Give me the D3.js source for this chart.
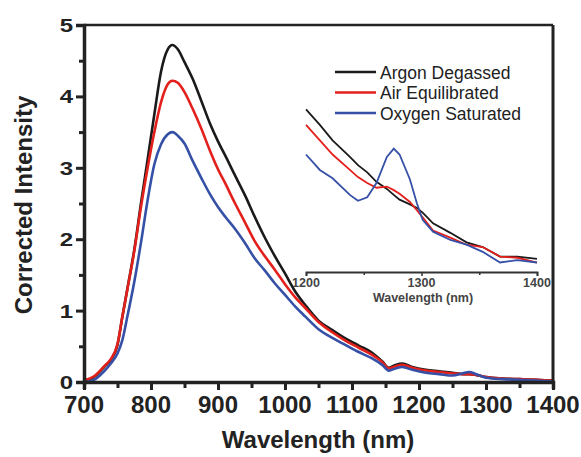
<!DOCTYPE html>
<html>
<head>
<meta charset="utf-8">
<script src="https://cdn.jsdelivr.net/npm/d3@7"></script>
<style>
  body { margin: 0; background: #fff; }
  svg text { font-family: "Liberation Sans", Arial, sans-serif; }
</style>
</head>
<body>
<div class="canvas"></div>
<script>
// main spectra (nm, corrected intensity)
const wavelength = [700, 715, 730, 740, 750, 757, 765, 775, 785, 795, 805, 815, 825, 832, 840, 850, 862, 875, 888, 900,
  912, 925, 940, 955, 970, 985, 1000, 1015, 1030, 1050, 1070, 1090, 1110, 1130, 1145, 1155, 1165, 1175, 1190, 1210,
  1230, 1250, 1265, 1275, 1285, 1300, 1325, 1350, 1375, 1400];
const argon = [0.02, 0.07, 0.21, 0.31, 0.52, 0.90, 1.32, 1.85, 2.50, 3.12, 3.75, 4.35, 4.66, 4.72, 4.66, 4.48, 4.25, 3.94, 3.62, 3.37,
  3.15, 2.90, 2.62, 2.31, 2.02, 1.76, 1.52, 1.27, 1.08, 0.86, 0.73, 0.61, 0.51, 0.41, 0.29, 0.20, 0.24, 0.26, 0.21, 0.17,
  0.15, 0.13, 0.11, 0.11, 0.10, 0.07, 0.05, 0.04, 0.03, 0.02];
const air = [0.02, 0.08, 0.22, 0.32, 0.53, 0.90, 1.31, 1.83, 2.45, 3.00, 3.50, 3.92, 4.17, 4.22, 4.19, 4.06, 3.83, 3.55, 3.24, 2.98,
  2.76, 2.51, 2.24, 1.97, 1.76, 1.57, 1.37, 1.19, 1.04, 0.84, 0.70, 0.58, 0.48, 0.38, 0.28, 0.19, 0.22, 0.24, 0.20, 0.16,
  0.14, 0.12, 0.11, 0.11, 0.10, 0.07, 0.05, 0.04, 0.03, 0.02];
const oxygen = [0.00, 0.03, 0.15, 0.26, 0.40, 0.58, 0.93, 1.40, 1.95, 2.55, 3.05, 3.33, 3.47, 3.50, 3.45, 3.34, 3.10, 2.86, 2.63, 2.45,
  2.30, 2.15, 1.95, 1.73, 1.56, 1.38, 1.22, 1.06, 0.92, 0.74, 0.62, 0.52, 0.42, 0.33, 0.24, 0.16, 0.19, 0.21, 0.17, 0.13,
  0.11, 0.09, 0.12, 0.14, 0.11, 0.06, 0.04, 0.03, 0.02, 0.01];

// inset, 1200-1400 nm zoom
const insetNm = [1200, 1212, 1223, 1238, 1245, 1253, 1261, 1270, 1276, 1281, 1290, 1296, 1301, 1310, 1325, 1339, 1353, 1368, 1383, 1400];
const insetArgon = [0.157, 0.144, 0.131, 0.117, 0.110, 0.104, 0.096, 0.090, 0.085, 0.081, 0.077, 0.074, 0.070, 0.061, 0.053, 0.045, 0.041, 0.033, 0.033, 0.031];
const insetAir = [0.144, 0.131, 0.119, 0.106, 0.100, 0.095, 0.091, 0.092, 0.089, 0.086, 0.079, 0.072, 0.066, 0.055, 0.049, 0.043, 0.041, 0.033, 0.032, 0.028];
const insetOxygen = [0.119, 0.106, 0.099, 0.085, 0.080, 0.083, 0.095, 0.117, 0.124, 0.119, 0.098, 0.078, 0.064, 0.054, 0.047, 0.043, 0.037, 0.028, 0.030, 0.028];

const seriesNames = ['Argon Degassed', 'Air Equilibrated', 'Oxygen Saturated'];
const colors = ['#1a1a1a', '#e3201c', '#3550a6'];

const xTicks = [700, 800, 900, 1000, 1100, 1200, 1300, 1400];
const yTicks = [0, 1, 2, 3, 4, 5];
const insetTicks = [1200, 1300, 1400];

const W = 581, H = 457;
const plot = {left: 84, right: 553, top: 25, bottom: 382};

const svg = d3.select('.canvas').append('svg')
  .attr('width', W).attr('height', H);

const x = d3.scaleLinear().domain([700, 1400]).range([plot.left, plot.right]);
const y = d3.scaleLinear().domain([0, 5]).range([plot.bottom, plot.top]);

// main curves
const line = d3.line()
  .x(d => x(d[0])).y(d => y(d[1]))
  .curve(d3.curveMonotoneX);

[argon, air, oxygen].forEach((vals, i) => {
  svg.append('path')
    .datum(wavelength.map((w, j) => [w, vals[j]]))
    .attr('fill', 'none')
    .attr('stroke', colors[i])
    .attr('stroke-width', 2.6)
    .attr('d', line);
});

// frame
svg.append('line').attr('x1', plot.left).attr('x2', plot.right).attr('y1', plot.top).attr('y2', plot.top)
  .attr('stroke', '#222').attr('stroke-width', 2.5);
svg.append('line').attr('x1', plot.right).attr('x2', plot.right).attr('y1', plot.top).attr('y2', plot.bottom)
  .attr('stroke', '#222').attr('stroke-width', 3);

// x axis
const xAxis = svg.append('g')
  .attr('transform', `translate(0, ${plot.bottom})`)
  .call(d3.axisBottom(x).tickValues(d3.range(700, 1401, 50)).tickSize(7).tickFormat(''));
xAxis.selectAll('.tick line').attr('stroke', '#222').attr('stroke-width', 3)
  .attr('y2', d => d % 100 === 0 ? 8 : 6);
xAxis.select('.domain').attr('stroke', '#222').attr('stroke-width', 3.5);

svg.append('g').selectAll('text')
  .data(xTicks).enter()
  .append('text')
    .attr('x', d => x(d))
    .attr('y', 413)
    .attr('text-anchor', 'middle')
    .attr('font-size', 24)
    .attr('font-weight', 'bold')
    .attr('fill', '#222')
    .text(d => d);

// y axis
const yAxis = svg.append('g')
  .attr('transform', `translate(${plot.left}, 0)`)
  .call(d3.axisLeft(y).tickValues(d3.range(0, 5.01, 0.5)).tickSize(8).tickFormat(''));
yAxis.selectAll('.tick line').attr('stroke', '#222').attr('stroke-width', 3)
  .attr('x2', d => Number.isInteger(d) ? -8 : -5);
yAxis.select('.domain').attr('stroke', '#222').attr('stroke-width', 3.5);

svg.append('g').selectAll('text')
  .data(yTicks).enter()
  .append('text')
    .attr('transform', d => `translate(73, ${y(d) + 7}) scale(1, 0.8)`)
    .attr('text-anchor', 'end')
    .attr('font-size', 24)
    .attr('font-weight', 'bold')
    .attr('fill', '#222')
    .text(d => d);

// axis titles
svg.append('text')
  .attr('x', 318).attr('y', 448)
  .attr('text-anchor', 'middle')
  .attr('font-size', 24).attr('font-weight', 'bold').attr('fill', '#222')
  .text('Wavelength (nm)');

svg.append('text')
  .attr('transform', 'translate(32, 205) rotate(-90)')
  .attr('text-anchor', 'middle')
  .attr('font-size', 24).attr('font-weight', 'bold').attr('fill', '#222')
  .text('Corrected Intensity');

// inset
const ix = d3.scaleLinear().domain([1200, 1400]).range([306, 537]);
const iy = d3.scaleLinear().domain([0.02, 0.17]).range([272, 94]);

const insetLine = d3.line().x(d => ix(d[0])).y(d => iy(d[1]));

[insetArgon, insetAir, insetOxygen].forEach((vals, i) => {
  svg.append('path')
    .datum(insetNm.map((w, j) => [w, vals[j]]))
    .attr('fill', 'none')
    .attr('stroke', colors[i])
    .attr('stroke-width', 1.8)
    .attr('d', insetLine);
});

const insetAxis = svg.append('g')
  .attr('transform', 'translate(0, 272)')
  .call(d3.axisBottom(ix).tickValues([1200, 1250, 1300, 1350, 1400]).tickSize(4).tickFormat(''));
insetAxis.selectAll('.tick line').attr('stroke', '#333').attr('stroke-width', 1.5)
  .attr('y2', d => d % 100 === 0 ? 4 : 3);
insetAxis.select('.domain').attr('stroke', '#333').attr('stroke-width', 1.8);

svg.append('g').selectAll('text')
  .data(insetTicks).enter()
  .append('text')
    .attr('x', d => ix(d))
    .attr('y', 287)
    .attr('text-anchor', 'middle')
    .attr('font-size', 12.5)
    .attr('font-weight', 'bold')
    .attr('fill', '#444')
    .text(d => d);

svg.append('text')
  .attr('x', 423).attr('y', 302)
  .attr('text-anchor', 'middle')
  .attr('font-size', 12.5).attr('font-weight', 'bold').attr('fill', '#444')
  .text('Wavelength (nm)');

// legend
const legend = svg.append('g').attr('transform', 'translate(335, 72)');
seriesNames.forEach((name, i) => {
  legend.append('line')
    .attr('x1', 0).attr('x2', 41)
    .attr('y1', i * 20.5).attr('y2', i * 20.5)
    .attr('stroke', colors[i]).attr('stroke-width', 2.4);
  legend.append('text')
    .attr('x', 45).attr('y', i * 20.5 + 6.5)
    .attr('font-size', 17.5)
    .attr('fill', '#222')
    .text(name);
});
</script>
</body>
</html>
